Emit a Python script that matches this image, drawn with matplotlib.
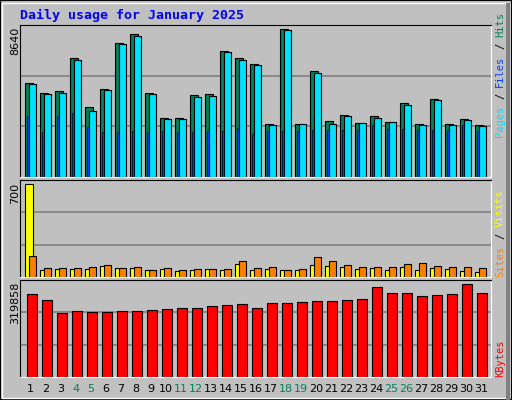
import matplotlib
matplotlib.use("Agg")
import matplotlib.pyplot as plt
from matplotlib.patches import Rectangle
import numpy as np

days = list(range(1, 32))
weekend = [4, 5, 11, 12, 18, 19, 25, 26]
hits = [5473, 4887, 5024, 6940, 4066, 5122, 7819, 8367, 4887, 3480, 3480, 4770, 4828, 7350, 6940, 6588,
        3128, 8640, 3128, 6177, 3304, 3655, 3186, 3597, 3245, 4301, 3128, 4535, 3128, 3421, 3069]
pages = [5415, 4828, 4887, 6822, 3890, 5063, 7761, 8249, 4828, 3421, 3421, 4652, 4711, 7291, 6822, 6529,
         3069, 8582, 3128, 6060, 3128, 3597, 3186, 3480, 3245, 4183, 3069, 4477, 3069, 3362, 3010]
files = [3597, 2659, 3597, 3773, 2952, 2659, 2659, 2717, 2659, 2717, 2659, 2659, 2717, 2717, 2893, 2541,
         2717, 2717, 2717, 2776, 2776, 2776, 2776, 3069, 2835, 2835, 2776, 2776, 2776, 3069, 2717]
visits = [700, 56, 63, 63, 63, 86, 71, 71, 56, 63, 48, 56, 63, 56, 101, 56, 63, 56, 56, 94, 86, 78, 63, 71,
          56, 78, 56, 71, 63, 48, 40]
sites = [162, 71, 71, 71, 78, 94, 71, 78, 56, 71, 56, 63, 63, 63, 124, 71, 78, 56, 63, 154, 124, 94, 78, 78,
         78, 101, 109, 86, 78, 78, 71]
kbytes = [284846, 267335, 221806, 228810, 225308, 225308, 228810, 228810, 232313, 235815, 239317, 239317,
          246321, 249824, 253326, 239317, 256828, 256828, 260330, 263832, 263832, 267335, 270837, 309361,
          288348, 288348, 277841, 281343, 284846, 319858, 288348]

W, H = 512, 400
fig = plt.figure(figsize=(5.12, 4.0), dpi=100, facecolor="#C0C0C0")
fig.patches.append(Rectangle((0, 0), 1, 1, transform=fig.transFigure, fill=False, ec="black", lw=1.5))
fig.patches.append(Rectangle((2/W, 2/H), 1-5/W, 1-5/H, transform=fig.transFigure, fill=False, ec="white", lw=1))
fig.patches.append(Rectangle((W-6, 0), 4, H-3, transform=None, fc="#808080", ec="none"))

x = np.array(days, dtype=float)
X0, X1 = 20, 491
xlo = 1 - (25.3 - X0) / 15
xhi = xlo + (X1 - X0) / 15
lw = 0.8
mono = "DejaVu Sans Mono"

def mkax(ytop, ybot, maxval, maxpix):
    ax = fig.add_axes([X0/W, 1-ybot/H, (X1-X0)/W, (ybot-ytop)/H])
    ax.set_facecolor("#C0C0C0")
    ax.set_xlim(xlo, xhi)
    ax.set_ylim(0, maxval * (ybot-ytop) / (ybot-maxpix))
    ax.set_xticks([]); ax.set_yticks([])
    for s in ("left", "top"):
        ax.spines[s].set_color("black")
    for s in ("right", "bottom"):
        ax.spines[s].set_color("white")
    for f in (1/3, 2/3):
        ax.plot([0, 1], [f, f], transform=ax.transAxes, color="#808080", lw=1.2, zorder=0)
    return ax

ax1 = mkax(25, 177, max(hits), 29.3)
ax1.bar(x, hits, width=0.49, align="edge", color="#00805C", ec="black", lw=lw)
ax1.bar(x+0.25, pages, width=0.49, align="edge", color="#00E0FF", ec="black", lw=lw)
ax1.bar(x+0.09, files, width=0.18, align="edge", color="#0040FF", ec="black", lw=0.5)

ax2 = mkax(180, 277, max(visits), 184.3)
ax2.bar(x, visits, width=0.53, align="edge", color="#FFFF00", ec="black", lw=lw)
ax2.bar(x+0.25, sites, width=0.49, align="edge", color="#FF8000", ec="black", lw=lw)

ax3 = mkax(280, 377, max(kbytes), 284.3)
ax3.bar(x+0.09, kbytes, width=0.67, align="edge", color="#FF0000", ec="black", lw=lw)

fig.text(20/W, 1-15/H, "Daily usage for January 2025", color="#0000FF", fontsize=9.5,
         fontweight="bold", family=mono, va="center", ha="left")

for d in days:
    xc = 25.3 + 15*(d-1) + 5.5
    fig.text(xc/W, 1-389/H, str(d), color="#00805C" if d in weekend else "black",
             fontsize=8, ha="center", va="center", family="DejaVu Sans")

for txt, ytop in (("8640", 27), ("700", 183), ("319858", 282)):
    fig.text(15/W, 1-ytop/H, txt, rotation=90, fontsize=8, ha="center", va="top", color="black")

FS = 7.5
CW = 0.602 * FS * 100 / 72

def rlabel(parts, ybottom):
    y = ybottom
    for t, c in parts:
        h = len(t) * CW
        fig.text(500/W, 1-(y - h/2)/H, t, rotation=90, color=c, fontsize=FS, family=mono,
                 ha="center", va="center")
        y -= h + CW

rlabel([("Pages", "#00E0FF"), ("/", "black"), ("Files", "#0040FF"), ("/", "black"), ("Hits", "#00805C")], 137)
rlabel([("Sites", "#FF8000"), ("/", "black"), ("Visits", "#FFFF00")], 277)
rlabel([("KBytes", "#FF0000")], 377)

fig.savefig("out.png", dpi=100, facecolor=fig.get_facecolor())
